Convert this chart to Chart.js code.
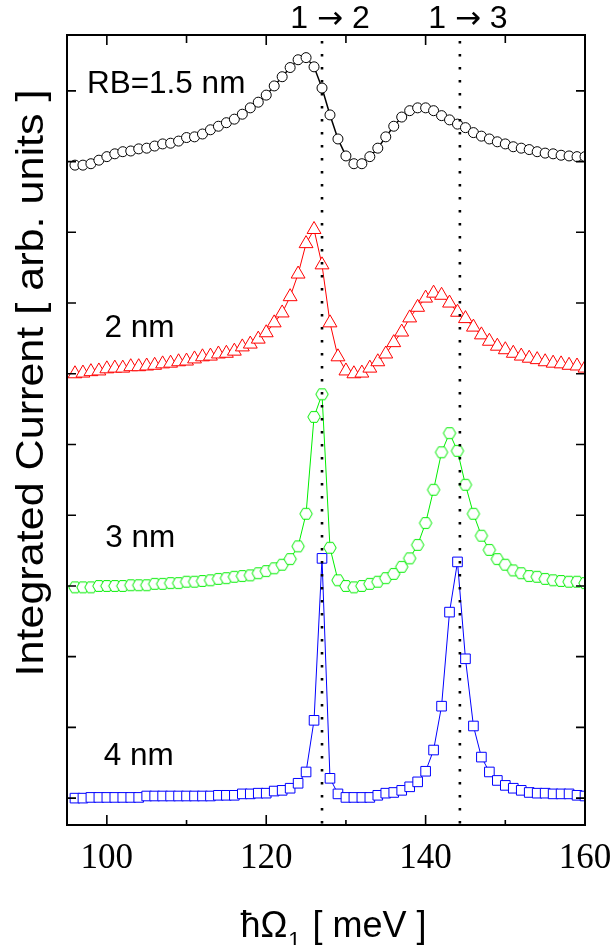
<!DOCTYPE html>
<html>
<head>
<meta charset="utf-8">
<script src="https://cdn.jsdelivr.net/npm/chart.js@4.4.0/dist/chart.umd.min.js"></script>
<style>
html, body { margin: 0; padding: 0; background: #fff; }
</style>
</head>
<body>
<canvas id="chart" width="612" height="945"></canvas>
<script>
// photon energy (meV)
const energy = [
    96, 97, 98, 99, 100, 101, 102, 103, 104, 105,
    106, 107, 108, 109, 110, 111, 112, 113, 114, 115,
    116, 117, 118, 119, 120, 121, 122, 123, 124, 125,
    126, 127, 128, 129, 130, 131, 132, 133, 134, 135,
    136, 137, 138, 139, 140, 141, 142, 143, 144, 145,
    146, 147, 148, 149, 150, 151, 152, 153, 154, 155,
    156, 157, 158, 159, 160
];

// integrated current, curves shifted vertically as in the figure
const rb15 = [
    8.95, 8.95, 8.97, 9.02, 9.07, 9.11, 9.14, 9.15, 9.18, 9.19,
    9.22, 9.25, 9.26, 9.29, 9.34, 9.35, 9.39, 9.45, 9.50, 9.55,
    9.60, 9.67, 9.76, 9.84, 9.94, 10.07, 10.20, 10.33, 10.44, 10.47,
    10.34, 10.04, 9.66, 9.32, 9.08, 8.97, 8.97, 9.07, 9.19, 9.35,
    9.50, 9.63, 9.72, 9.76, 9.76, 9.72, 9.65, 9.59, 9.53, 9.48,
    9.41, 9.36, 9.32, 9.28, 9.25, 9.21, 9.19, 9.17, 9.14, 9.12,
    9.11, 9.09, 9.08, 9.07, 9.07
];
const rb2 = [
    6.00, 6.01, 6.03, 6.04, 6.07, 6.08, 6.08, 6.10, 6.10, 6.11,
    6.12, 6.14, 6.15, 6.17, 6.18, 6.21, 6.24, 6.25, 6.28, 6.29,
    6.32, 6.38, 6.42, 6.49, 6.58, 6.72, 6.86, 7.09, 7.41, 7.84,
    8.04, 7.54, 6.72, 6.24, 6.04, 6.00, 6.01, 6.08, 6.17, 6.28,
    6.44, 6.59, 6.79, 6.94, 7.07, 7.14, 7.11, 7.00, 6.87, 6.78,
    6.66, 6.55, 6.46, 6.39, 6.34, 6.29, 6.25, 6.22, 6.20, 6.17,
    6.15, 6.14, 6.12, 6.11, 6.08
];
const rb3 = [
    2.98, 2.98, 2.98, 3.00, 3.00, 3.00, 3.00, 3.01, 3.01, 3.01,
    3.03, 3.03, 3.04, 3.04, 3.06, 3.06, 3.07, 3.08, 3.10, 3.11,
    3.13, 3.14, 3.15, 3.18, 3.21, 3.25, 3.30, 3.38, 3.56, 4.02,
    5.39, 5.71, 3.54, 3.08, 3.00, 2.98, 3.00, 3.03, 3.06, 3.11,
    3.17, 3.27, 3.39, 3.58, 3.89, 4.36, 4.89, 5.16, 4.91, 4.43,
    4.02, 3.71, 3.51, 3.38, 3.30, 3.22, 3.18, 3.14, 3.13, 3.10,
    3.08, 3.07, 3.06, 3.06, 3.04
];
const rb4 = [
    0.00, 0.00, 0.01, 0.01, 0.01, 0.01, 0.01, 0.01, 0.01, 0.03,
    0.03, 0.03, 0.03, 0.03, 0.03, 0.03, 0.03, 0.03, 0.04, 0.04,
    0.04, 0.06, 0.06, 0.07, 0.07, 0.10, 0.11, 0.14, 0.21, 0.37,
    1.10, 3.39, 0.28, 0.06, 0.01, 0.01, 0.01, 0.01, 0.04, 0.07,
    0.08, 0.11, 0.16, 0.23, 0.38, 0.68, 1.30, 2.63, 3.34, 1.97,
    1.02, 0.58, 0.37, 0.25, 0.18, 0.14, 0.11, 0.08, 0.07, 0.07,
    0.06, 0.06, 0.06, 0.04, 0.03
];

const curveNames = ['RB=1.5 nm', '2 nm', '3 nm', '4 nm'];
const xMajorTicks = [100, 120, 140, 160];
const xMinorTicks = [110, 130, 150];
const yTicks = [0, 1, 2, 3, 4, 5, 6, 7, 8, 9, 10];
const transitions = [127.0, 144.3];
const transitionStates = [['1', '2'], ['1', '3']];

const SANS = '"Liberation Sans", Arial, Helvetica, sans-serif';
const SERIF = '"Liberation Serif", "Times New Roman", serif';
const ARROW = '"DejaVu Sans", sans-serif';

function toPoints(vals) {
    return vals.map((v, i) => ({ x: energy[i], y: v }));
}

// hexagon marker for the 3 nm curve
function hexMarker(color) {
    const c = document.createElement('canvas');
    c.width = 16;
    c.height = 16;
    const g = c.getContext('2d');
    g.beginPath();
    for (let k = 0; k < 6; k++) {
        const a = Math.PI / 3 * k;
        const px = 8 + 6.2 * Math.cos(a);
        const py = 8 + 6.2 * Math.sin(a);
        if (k === 0) g.moveTo(px, py); else g.lineTo(px, py);
    }
    g.closePath();
    g.fillStyle = '#fff';
    g.fill();
    g.strokeStyle = color;
    g.lineWidth = 1;
    g.stroke();
    return c;
}

const decor = {
    id: 'decor',
    afterDatasetsDraw(chart) {
        const { ctx, chartArea: a, scales: { x, y } } = chart;
        ctx.save();

        // transition lines
        ctx.strokeStyle = '#000';
        ctx.lineWidth = 2.6;
        ctx.setLineDash([2.4, 10.6]);
        transitions.forEach(t => {
            const px = x.getPixelForValue(t);
            ctx.beginPath();
            ctx.moveTo(px, a.top + 6);
            ctx.lineTo(px, a.bottom);
            ctx.stroke();
        });
        ctx.setLineDash([]);

        // frame
        ctx.lineWidth = 2;
        ctx.strokeRect(a.left, a.top, a.right - a.left, a.bottom - a.top);

        // inward ticks
        ctx.lineWidth = 1.6;
        ctx.beginPath();
        xMajorTicks.forEach(v => {
            const px = x.getPixelForValue(v);
            ctx.moveTo(px, a.bottom); ctx.lineTo(px, a.bottom - 10);
            ctx.moveTo(px, a.top); ctx.lineTo(px, a.top + 10);
        });
        xMinorTicks.forEach(v => {
            const px = x.getPixelForValue(v);
            ctx.moveTo(px, a.bottom); ctx.lineTo(px, a.bottom - 5);
            ctx.moveTo(px, a.top); ctx.lineTo(px, a.top + 8);
        });
        yTicks.forEach(v => {
            const py = y.getPixelForValue(v);
            ctx.moveTo(a.left, py); ctx.lineTo(a.left + 9, py);
            ctx.moveTo(a.right, py); ctx.lineTo(a.right - 9, py);
        });
        ctx.stroke();

        ctx.fillStyle = '#000';
        ctx.textBaseline = 'alphabetic';

        // x tick labels
        ctx.font = '35px ' + SERIF;
        ctx.textAlign = 'center';
        xMajorTicks.forEach(v => {
            ctx.fillText(String(v), x.getPixelForValue(v), a.bottom + 43);
        });

        // transition labels "1 -> 2", arrow from a font with a long arrow
        ctx.textAlign = 'left';
        transitions.forEach((t, i) => {
            const [from, to] = transitionStates[i];
            const parts = [[from + ' ', '32px ' + SANS], ['\u2192', '31px ' + ARROW], [' ' + to, '32px ' + SANS]];
            let total = 0;
            parts.forEach(p => { ctx.font = p[1]; total += ctx.measureText(p[0]).width; });
            let tx = x.getPixelForValue(t) + 8 - total / 2;
            parts.forEach(p => {
                ctx.font = p[1];
                ctx.fillText(p[0], tx, a.top - 7);
                tx += ctx.measureText(p[0]).width;
            });
        });

        // curve labels
        ctx.font = '31.5px ' + SANS;
        const labelAt = [[97.5, 9.97], [99.7, 6.52], [99.8, 3.55], [99.6, 0.47]];
        curveNames.forEach((name, i) => {
            ctx.fillText(name, x.getPixelForValue(labelAt[i][0]), y.getPixelForValue(labelAt[i][1]));
        });

        // x title: hbar Omega_1 [ meV ]
        const big = '36px ' + SANS;
        const small = '22px ' + SANS;
        const p1 = '\u0127\u03A9', p2 = '1', p3 = ' [ meV ]';
        ctx.font = big;
        const w1 = ctx.measureText(p1).width, w3 = ctx.measureText(p3).width;
        ctx.font = small;
        const w2 = ctx.measureText(p2).width + 2;
        let tx = 333 - (w1 + w2 + w3) / 2;
        const ty = a.bottom + 112;
        ctx.font = big;
        ctx.fillText(p1, tx, ty);
        tx += w1 + 1;
        ctx.font = small;
        ctx.fillText(p2, tx, ty + 10);
        tx += w2;
        ctx.font = big;
        ctx.fillText(p3, tx, ty);

        // y title, stretched along its length like the original
        const yTitle = 'Integrated Current [ arb. units ]';
        ctx.save();
        ctx.font = '38px ' + SANS;
        const stretch = 587 / ctx.measureText(yTitle).width;
        ctx.translate(43, 383);
        ctx.rotate(-Math.PI / 2);
        ctx.scale(stretch, 1);
        ctx.textAlign = 'center';
        ctx.fillText(yTitle, 0, 0);
        ctx.restore();

        ctx.restore();
    }
};

new Chart(document.getElementById('chart'), {
    type: 'line',
    data: {
        datasets: [
            {
                label: curveNames[0],
                data: toPoints(rb15),
                borderColor: '#000',
                borderWidth: 1.5,
                pointStyle: 'circle',
                pointRadius: 5,
                pointBorderWidth: 1,
                pointBackgroundColor: '#fff'
            },
            {
                label: curveNames[1],
                data: toPoints(rb2),
                borderColor: '#ff0000',
                borderWidth: 1,
                pointStyle: 'triangle',
                pointRadius: 8,
                pointBorderWidth: 1,
                pointBackgroundColor: '#fff'
            },
            {
                label: curveNames[2],
                data: toPoints(rb3),
                borderColor: '#00ee00',
                borderWidth: 1,
                pointStyle: hexMarker('#00ee00'),
                pointRadius: 6.2,
                pointBackgroundColor: '#fff'
            },
            {
                label: curveNames[3],
                data: toPoints(rb4),
                borderColor: '#0000ff',
                borderWidth: 1,
                pointStyle: 'rect',
                pointRadius: 6.8,
                pointBorderWidth: 1,
                pointBackgroundColor: '#fff'
            }
        ]
    },
    options: {
        responsive: false,
        animation: false,
        devicePixelRatio: 1,
        layout: { padding: { left: 67, right: 27, top: 35, bottom: 120 } },
        scales: {
            x: { type: 'linear', min: 95, max: 160, display: false },
            y: { type: 'linear', min: -0.38, max: 10.79, display: false }
        },
        plugins: {
            legend: { display: false },
            tooltip: { enabled: false }
        }
    },
    plugins: [decor]
});
</script>
</body>
</html>
